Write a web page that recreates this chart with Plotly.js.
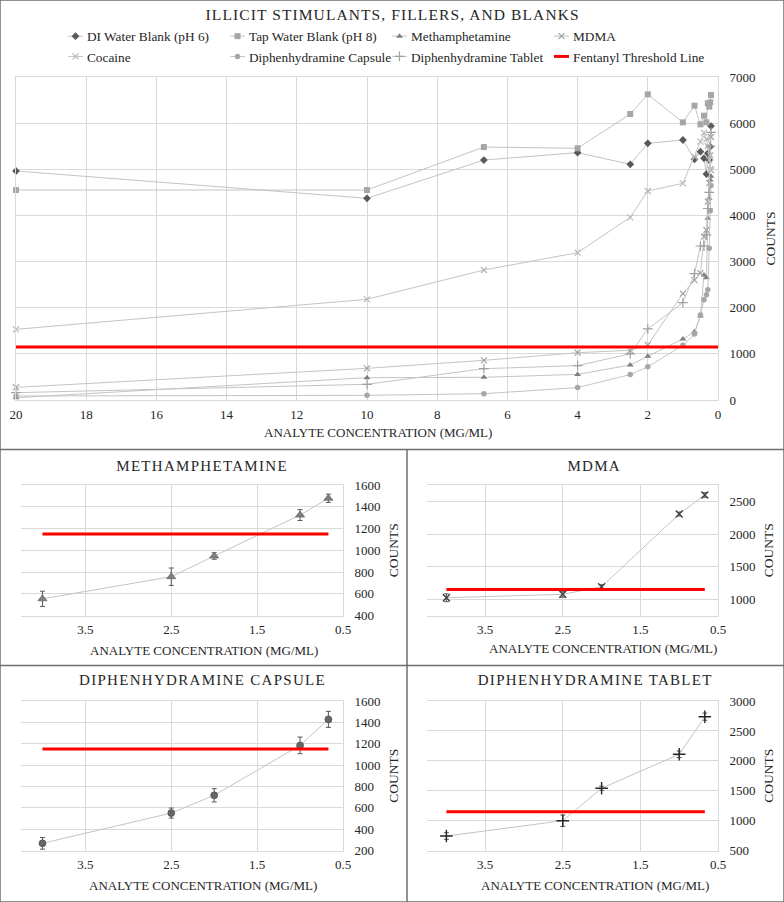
<!DOCTYPE html>
<html><head><meta charset="utf-8">
<script src="https://cdn.plot.ly/plotly-3.0.1.min.js"></script>
<style>
html,body{margin:0;padding:0;background:#fff}
#chart{width:784px;height:902px}
.annotation[data-index="0"] text{letter-spacing:1.1px}
.annotation[data-index="1"] text,.annotation[data-index="2"] text,.annotation[data-index="3"] text,.annotation[data-index="4"] text{letter-spacing:1.3px}
.legend .scrollbox{clip-path:none !important}
</style></head><body><div id="chart"></div>
<script>
// ---- data ----
const concentrations = [20, 10, 6.67, 4, 2.5, 2, 1, 0.67, 0.5, 0.4, 0.33, 0.29, 0.25, 0.22, 0.2];
const diWaterBlank   = [4963, 4371, 5200, 5360, 5108, 5563, 5635, 5216, 5381, 5237, 4897, 5345, 5200, 5490, 5937];
const tapWaterBlank  = [4551, 4551, 5482, 5455, 6198, 6625, 6017, 6378, 5974, 6161, 6017, 6430, 6357, 6451, 6609];
const methamphetamine= [50, 484, 492, 555, 758, 948, 1324, 1478, 1820, 2709, 2650, 3940, 4370, 4770, 4850];
const mdma           = [274, 686, 860, 1025, 1077, 1194, 2306, 2597, 2750, 3540, 3684, 4300, 4700, 5300, 5700];
const cocaine        = [1532, 2182, 2817, 3193, 3959, 4530, 4696, 5274, 5600, 5794, 5650, 5500, 5200, 5000, 4980];
const diphCapsule    = [87, 101, 137, 269, 552, 718, 1185, 1428, 1842, 2170, 2280, 2390, 3290, 4100, 4650];
const diphTablet     = [159, 340, 679, 745, 1001, 1542, 2110, 2738, 3338, 3338, 3580, 4150, 4500, 5500, 5800];
const fentanylThreshold = 1150;
const thresholdSpanTop = [20, 0];

const subConcentrations = [4, 2.5, 2, 1, 0.67];
const methCounts = [555, 758, 948, 1324, 1478];
const methErr    = [70, 80, 30, 50, 38];
const mdmaCounts = [1025, 1077, 1194, 2306, 2597];
const mdmaErr    = [60, 45, 30, 30, 35];
const capsuleCounts = [269, 552, 718, 1185, 1428];
const capsuleErr    = [55, 47, 62, 78, 75];
const tabletCounts  = [745, 1001, 1542, 2110, 2738];
const tabletErr     = [55, 95, 35, 55, 60];

const seriesNames = ['DI Water Blank (pH 6)', 'Tap Water Blank (pH 8)', 'Methamphetamine', 'MDMA', 'Cocaine', 'Diphenhydramine Capsule', 'Diphenhydramine Tablet', 'Fentanyl Threshold Line'];
const panelTitles = ['ILLICIT STIMULANTS, FILLERS, AND BLANKS', 'METHAMPHETAMINE', 'MDMA', 'DIPHENHYDRAMINE CAPSULE', 'DIPHENHYDRAMINE TABLET'];
const xTitle = 'ANALYTE CONCENTRATION (MG/ML)';
const yTitle = 'COUNTS';

// ---- styling / layout ----
const W = 784, H = 902;
const FONT = 'Liberation Serif';
const TXT = '#262626';
const GRID = '#d9d9d9';
const LINE = '#c4c4c4';
const RED = '#ff0000';
const px = v => v / W;
const py = v => 1 - v / H;

const topStyles = [
  {symbol: 'diamond', size: 6, color: '#595959'},
  {symbol: 'square', size: 6, color: '#a6a6a6'},
  {symbol: 'triangle-up', size: 6, color: '#7f7f7f'},
  {symbol: 'x-thin-open', size: 6, color: '#a0a0a0', lw: 1.2},
  {symbol: 'x-thin-open', size: 6, color: '#b8b8b8', lw: 1.2},
  {symbol: 'circle', size: 5.5, color: '#a6a6a6'},
  {symbol: 'cross-thin-open', size: 7, color: '#a0a0a0', lw: 1.2}
];
const topSeries = [diWaterBlank, tapWaterBlank, methamphetamine, mdma, cocaine, diphCapsule, diphTablet];

const traces = [];
topSeries.forEach((ys, i) => {
  const s = topStyles[i];
  traces.push({
    x: concentrations, y: ys, name: seriesNames[i], type: 'scatter', mode: 'lines+markers',
    xaxis: 'x', yaxis: 'y', cliponaxis: false,
    line: {color: LINE, width: 1},
    marker: {symbol: s.symbol, size: s.size, color: s.color, line: {width: s.lw || 0, color: s.color}}
  });
});
traces.push({
  x: thresholdSpanTop, y: thresholdSpanTop.map(() => fentanylThreshold), name: seriesNames[7],
  type: 'scatter', mode: 'lines', xaxis: 'x', yaxis: 'y', line: {color: RED, width: 3}
});

const subDefs = [
  {ys: methCounts, err: methErr, ax: 2, marker: {symbol: 'triangle-up', size: 8, color: '#7f7f7f', line: {width: 0.6, color: '#595959'}}},
  {ys: mdmaCounts, err: mdmaErr, ax: 3, marker: {symbol: 'x-thin-open', size: 7, color: '#404040', line: {width: 1.4, color: '#404040'}}},
  {ys: capsuleCounts, err: capsuleErr, ax: 4, marker: {symbol: 'circle', size: 7, color: '#666666', line: {width: 0.6, color: '#444'}}},
  {ys: tabletCounts, err: tabletErr, ax: 5, marker: {symbol: 'cross-thin-open', size: 9, color: '#262626', line: {width: 1.4, color: '#262626'}}}
];
subDefs.forEach(d => {
  traces.push({
    x: subConcentrations, y: d.ys, type: 'scatter', mode: 'lines+markers', showlegend: false,
    xaxis: 'x' + d.ax, yaxis: 'y' + d.ax,
    line: {color: LINE, width: 1}, marker: d.marker,
    error_y: {type: 'data', array: d.err, visible: true, color: '#595959', thickness: 1, width: 2.5}
  });
  const span = [subConcentrations[0], subConcentrations[subConcentrations.length - 1]];
  traces.push({
    x: span, y: span.map(() => fentanylThreshold), type: 'scatter', mode: 'lines', showlegend: false,
    xaxis: 'x' + d.ax, yaxis: 'y' + d.ax, line: {color: RED, width: 3}
  });
});

const tickfont = {family: FONT, size: 13, color: TXT};
function xAx(dom, anchor, range, dtick, tick0) {
  return {domain: dom, anchor: anchor, range: range, dtick: dtick, tick0: tick0, tickmode: 'linear',
    showgrid: true, gridcolor: GRID, gridwidth: 1, zeroline: false, showline: true, linecolor: GRID, linewidth: 1,
    mirror: true, ticks: '', tickfont: tickfont, automargin: false, ticklabelstandoff: 2, fixedrange: true};
}
function yAx(dom, anchor, range, dtick, standoff) {
  return {domain: dom, anchor: anchor, range: range, dtick: dtick, tick0: 0, tickmode: 'linear', side: 'right',
    showgrid: true, gridcolor: GRID, gridwidth: 1, zeroline: false, showline: true, linecolor: GRID, linewidth: 1,
    ticks: '', tickfont: tickfont, automargin: false, ticklabelstandoff: 8, fixedrange: true,
    title: {text: yTitle, font: {family: FONT, size: 13.5, color: TXT}, standoff: standoff}};
}

const topY = [py(400), py(77)];
const rowY1 = [py(615.7), py(485)];
const rowY2 = [py(850.7), py(701)];
const colL = [px(21), px(343)];
const colR = [px(427), px(718)];

const layout = {
  width: W, height: H, margin: {l: 0, r: 0, t: 0, b: 0},
  paper_bgcolor: '#ffffff', plot_bgcolor: '#ffffff', showlegend: true,
  font: {family: FONT, color: TXT},
  xaxis: xAx([px(16), px(718)], 'y', [20, 0], 2, 0),
  yaxis: Object.assign(yAx(topY, 'x', [0, 7000], 1000, 10), {mirror: true}),
  xaxis2: xAx(colL, 'y2', [4.25, 0.5], 1, 0.5),
  yaxis2: yAx(rowY1, 'x2', [400, 1600], 200, 8),
  xaxis3: xAx(colR, 'y3', [4.25, 0.5], 1, 0.5),
  yaxis3: yAx(rowY1, 'x3', [750, 2750], 500, 8),
  xaxis4: xAx(colL, 'y4', [4.25, 0.5], 1, 0.5),
  yaxis4: yAx(rowY2, 'x4', [200, 1600], 200, 8),
  xaxis5: xAx(colR, 'y5', [4.25, 0.5], 1, 0.5),
  yaxis5: yAx(rowY2, 'x5', [500, 3000], 500, 8),
  legend: {orientation: 'h', x: px(47), xanchor: 'left', y: py(21), yanchor: 'top',
    font: {family: FONT, size: 13.3, color: TXT}, entrywidth: 117, entrywidthmode: 'pixels',
    bgcolor: 'rgba(0,0,0,0)', borderwidth: 0, traceorder: 'normal', tracegroupgap: 0},
  annotations: [
    {text: panelTitles[0], x: px(392), y: py(15), font: {family: FONT, size: 15.5, color: TXT}},
    {text: panelTitles[1], x: px(202), y: py(466), font: {family: FONT, size: 15, color: TXT}},
    {text: panelTitles[2], x: px(594), y: py(466), font: {family: FONT, size: 15, color: TXT}},
    {text: panelTitles[3], x: px(202.5), y: py(680), font: {family: FONT, size: 15, color: TXT}},
    {text: panelTitles[4], x: px(594.5), y: py(680), font: {family: FONT, size: 15, color: TXT}},
    {text: xTitle, x: px(377.5), y: py(433), font: {family: FONT, size: 13, color: TXT}},
    {text: xTitle, x: px(203.5), y: py(650), font: {family: FONT, size: 13, color: TXT}},
    {text: xTitle, x: px(603), y: py(648.5), font: {family: FONT, size: 13, color: TXT}},
    {text: xTitle, x: px(203.3), y: py(885), font: {family: FONT, size: 13, color: TXT}},
    {text: xTitle, x: px(595), y: py(885), font: {family: FONT, size: 13, color: TXT}}
  ].map(a => Object.assign({xref: 'paper', yref: 'paper', showarrow: false, xanchor: 'center', yanchor: 'middle'}, a)),
  shapes: [
    {type: 'rect', x0: 0, x1: 1, y0: 0, y1: 1},
    {type: 'line', x0: 0, x1: 1, y0: py(449.5), y1: py(449.5)},
    {type: 'line', x0: 0, x1: 1, y0: py(665.5), y1: py(665.5)},
    {type: 'line', x0: px(407), x1: px(407), y0: 0, y1: py(449.5)}
  ].map(s => Object.assign({xref: 'paper', yref: 'paper', line: {color: '#6e6e6e', width: 1.5}}, s))
};

Plotly.newPlot('chart', traces, layout, {displayModeBar: false, staticPlot: true}).then(gd => {
  // shorten the legend swatches so they sit close to their labels, as in the reference
  gd.querySelectorAll('.legend .traces').forEach(g => {
    g.querySelectorAll('.legendlines path').forEach(p => p.setAttribute('d', 'M21,0h15'));
    g.querySelectorAll('.legendpoints path').forEach(p => p.setAttribute('transform', 'translate(28.5,0)'));
  });
});
</script></body></html>
